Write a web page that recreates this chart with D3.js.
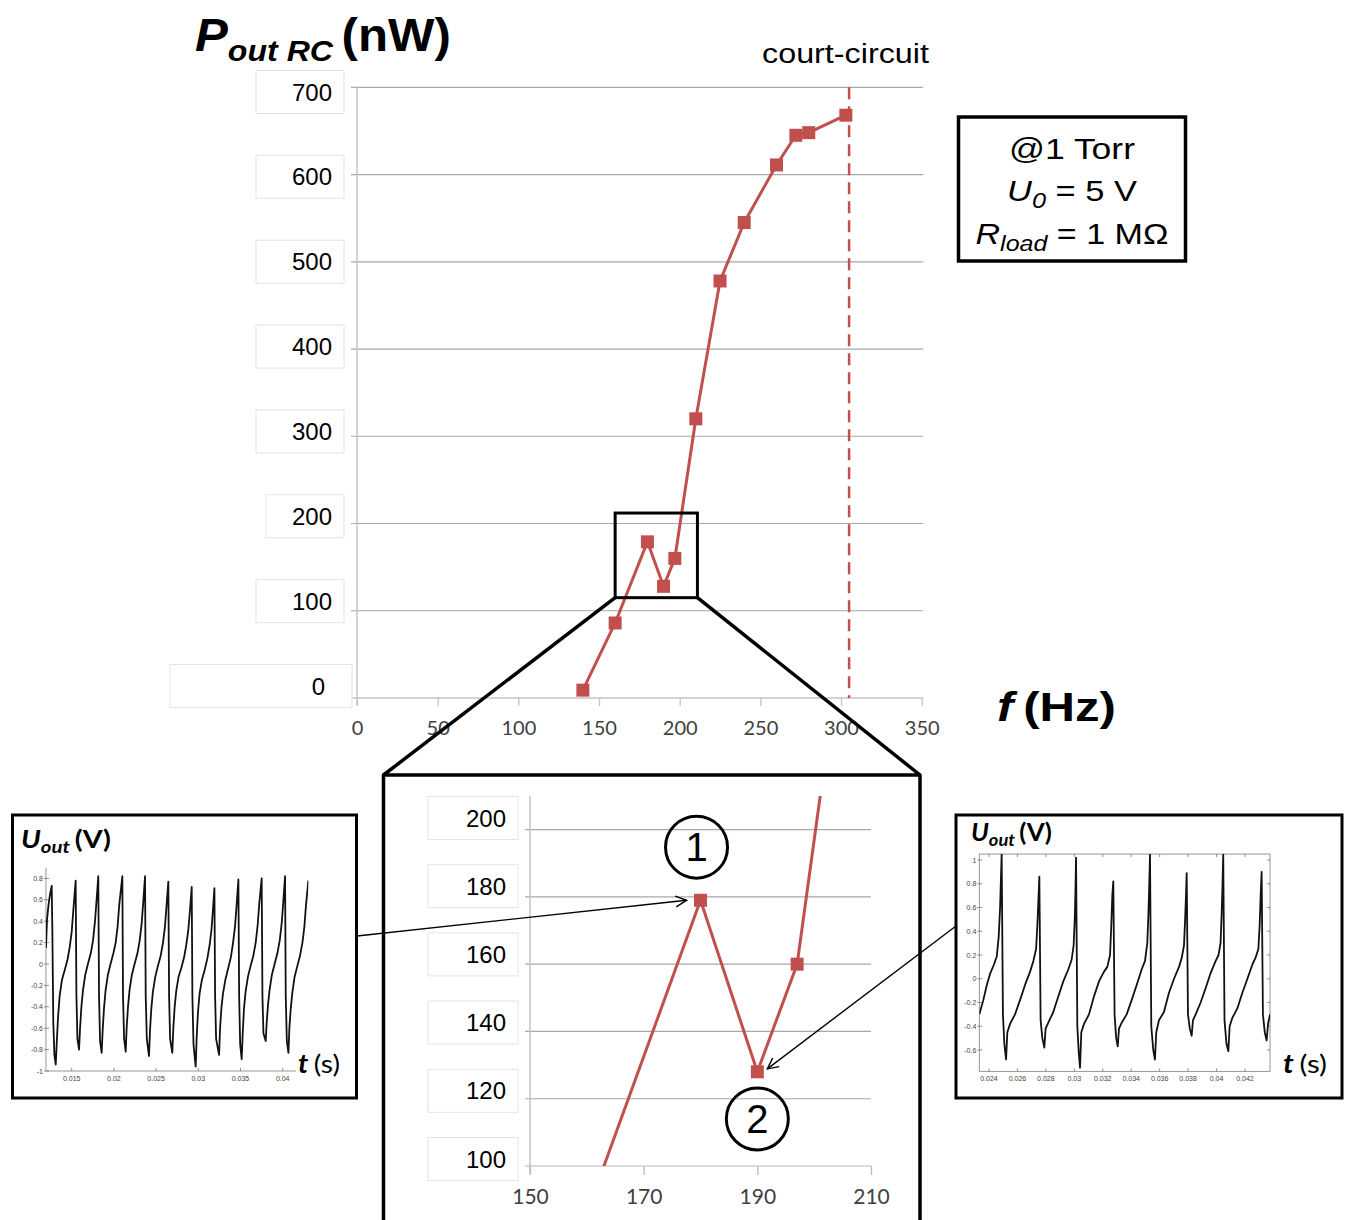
<!DOCTYPE html>
<html><head><meta charset="utf-8">
<script src="https://cdn.jsdelivr.net/npm/d3@7"></script>
<style>body{margin:0;background:#fff}svg{display:block}</style>
</head><body>
<svg id="c" width="1348" height="1220"></svg>
<script>
// ---------------- DATA ----------------
const freqHz   = [140, 160, 180, 190, 197, 210, 225, 240, 260, 272, 280, 303];
const powerNW  = [9,   86,  179, 128, 160, 320, 478, 545, 611, 645, 648, 668];
const shortCircuitHz = 305;
const mainXTicks = [0, 50, 100, 150, 200, 250, 300, 350];
const mainYTicks = [0, 100, 200, 300, 400, 500, 600, 700];
const zoomXTicks = [150, 170, 190, 210];
const zoomYTicks = [100, 120, 140, 160, 180, 200];
const zoomBoxHz = [160, 211];
const zoomBoxNW = [115, 212];
const leftWaveXTicks = [0.015, 0.02, 0.025, 0.03, 0.035, 0.04];
const leftWaveYTicks = [-1, -0.8, -0.6, -0.4, -0.2, 0, 0.2, 0.4, 0.6, 0.8];
const rightWaveXTicks = [0.024, 0.026, 0.028, 0.03, 0.032, 0.034, 0.036, 0.038, 0.04, 0.042];
const rightWaveYTicks = [-0.6, -0.4, -0.2, 0, 0.2, 0.4, 0.6, 0.8, 1];

// waveform 1 (point 1, 180 Hz): [t (s), U (V)]
const wave1 = [
[0.01195,0.15],[0.01208,0.42],[0.01225,0.55],[0.01243,0.65],[0.01263,0.73],
[0.01271,0.3],[0.01282,-0.55],[0.01295,-0.85],[0.01311,-0.94],
[0.01322,-0.75],[0.01338,-0.5],[0.01357,-0.3],[0.01384,-0.15],[0.01416,-0.06],[0.0145,0.04],[0.01477,0.16],[0.015,0.3],[0.01519,0.5],[0.01547,0.78],
[0.01556,-0.3],[0.01568,-0.7],[0.01587,-0.80],
[0.01599,-0.6],[0.01615,-0.4],[0.01633,-0.25],[0.01661,-0.1],[0.01692,0.0],[0.01726,0.1],[0.01753,0.22],[0.01776,0.4],[0.01795,0.6],[0.01815,0.82],
[0.01824,-0.3],[0.01836,-0.72],[0.01855,-0.83],
[0.01867,-0.62],[0.01882,-0.42],[0.01901,-0.25],[0.01929,-0.1],[0.0196,0.0],[0.01994,0.1],[0.02021,0.2],[0.02044,0.35],[0.02063,0.55],[0.021,0.82],
[0.02108,-0.3],[0.02121,-0.7],[0.0214,-0.82],
[0.02151,-0.6],[0.02167,-0.4],[0.02186,-0.24],[0.02213,-0.1],[0.02245,0.0],[0.02279,0.1],[0.02306,0.22],[0.02329,0.38],[0.02348,0.58],[0.02369,0.82],
[0.02377,-0.3],[0.0239,-0.7],[0.02416,-0.86],
[0.02428,-0.62],[0.02443,-0.42],[0.02462,-0.26],[0.0249,-0.12],[0.02521,-0.02],[0.02555,0.08],[0.02582,0.2],[0.02605,0.35],[0.02624,0.55],[0.02645,0.77],
[0.02654,-0.3],[0.02666,-0.7],[0.02692,-0.83],
[0.02704,-0.6],[0.0272,-0.4],[0.02739,-0.25],[0.02766,-0.12],[0.02798,-0.04],[0.02831,0.06],[0.02858,0.18],[0.02882,0.32],[0.02901,0.5],[0.02922,0.72],
[0.0293,-0.3],[0.02943,-0.75],[0.02969,-0.96],
[0.0298,-0.7],[0.02996,-0.45],[0.03015,-0.28],[0.03042,-0.15],[0.03074,-0.06],[0.03107,0.05],[0.03135,0.18],[0.03156,0.32],[0.03173,0.5],[0.03191,0.71],
[0.03199,-0.3],[0.03211,-0.7],[0.03246,-0.85],
[0.03258,-0.6],[0.03273,-0.42],[0.03292,-0.28],[0.0332,-0.15],[0.03351,-0.05],[0.03385,0.06],[0.03412,0.2],[0.03435,0.35],[0.03454,0.55],[0.03475,0.79],
[0.03484,-0.3],[0.03496,-0.75],[0.03514,-0.89],
[0.03526,-0.65],[0.03541,-0.42],[0.0356,-0.26],[0.03588,-0.12],[0.03619,-0.02],[0.03653,0.08],[0.0368,0.2],[0.03703,0.36],[0.03722,0.56],[0.03751,0.80],
[0.0376,-0.3],[0.03772,-0.65],[0.03799,-0.72],
[0.0381,-0.55],[0.03826,-0.38],[0.03845,-0.24],[0.03872,-0.1],[0.03904,0.0],[0.03937,0.1],[0.03965,0.22],[0.03988,0.38],[0.04007,0.58],[0.04028,0.82],
[0.04036,-0.3],[0.04049,-0.72],[0.04068,-0.83],
[0.04079,-0.6],[0.04095,-0.42],[0.04114,-0.27],[0.04141,-0.12],[0.04173,-0.02],[0.04206,0.08],[0.04234,0.2],[0.04257,0.35],[0.04276,0.55],[0.04304,0.78]
];

// waveform 2 (point 2, 190 Hz): [t (s), U (V)]
const wave2 = [
[0.02332,-0.3],[0.0236,-0.18],[0.02385,-0.05],[0.0241,0.05],[0.02435,0.12],[0.02455,0.19],[0.02468,0.35],[0.02478,0.6],[0.02484,0.85],[0.02489,1.05],
[0.02498,-0.3],[0.02508,-0.55],[0.0252,-0.68],
[0.02529,-0.45],[0.02548,-0.38],[0.02583,-0.3],[0.02618,-0.18],[0.02654,-0.05],[0.02689,0.06],[0.02712,0.15],[0.02731,0.25],[0.0274,0.45],[0.02747,0.65],[0.02754,0.86],
[0.02763,-0.35],[0.02775,-0.5],[0.02789,-0.58],
[0.02798,-0.42],[0.02817,-0.37],[0.02852,-0.28],[0.02887,-0.15],[0.02923,-0.02],[0.02958,0.08],[0.02981,0.16],[0.02995,0.28],[0.03003,0.5],[0.03008,0.75],[0.03012,1.02],
[0.03021,-0.4],[0.03031,-0.62],[0.0304,-0.75],
[0.03049,-0.45],[0.03068,-0.38],[0.03103,-0.3],[0.03138,-0.15],[0.03174,-0.02],[0.03209,0.06],[0.03232,0.1],[0.03251,0.2],[0.0326,0.45],[0.03267,0.7],[0.03274,0.82],
[0.03283,-0.3],[0.03294,-0.5],[0.03305,-0.57],
[0.03314,-0.42],[0.03333,-0.37],[0.03368,-0.3],[0.03403,-0.18],[0.03439,-0.05],[0.03474,0.08],[0.03497,0.15],[0.03513,0.3],[0.03521,0.55],[0.03527,0.8],[0.03532,1.05],
[0.03541,-0.4],[0.03555,-0.6],[0.03567,-0.68],
[0.03576,-0.45],[0.03595,-0.35],[0.0363,-0.28],[0.03665,-0.12],[0.03701,0.0],[0.03736,0.1],[0.03756,0.18],[0.03771,0.28],[0.03779,0.5],[0.03785,0.7],[0.0379,0.89],
[0.03799,-0.3],[0.03812,-0.42],[0.03825,-0.48],
[0.03834,-0.35],[0.03853,-0.3],[0.03888,-0.2],[0.03923,-0.08],[0.03959,0.05],[0.03994,0.15],[0.04014,0.2],[0.04028,0.3],[0.04036,0.55],[0.04042,0.8],[0.04047,1.05],
[0.04056,-0.35],[0.0407,-0.55],[0.04083,-0.61],
[0.04092,-0.4],[0.04111,-0.33],[0.04146,-0.25],[0.04181,-0.12],[0.04217,0.0],[0.04252,0.12],[0.04275,0.18],[0.04294,0.25],[0.04303,0.45],[0.0431,0.7],[0.04317,0.9],
[0.04326,-0.3],[0.04339,-0.45],[0.04352,-0.52],
[0.04362,-0.38],[0.04376,-0.3]
];

// ---------------- DRAWING ----------------
const RED = "#c0504d";
const ARIAL = "'Liberation Sans', Arial, sans-serif";
const CAL = "Lato, 'Open Sans', sans-serif";
const svg = d3.select("#c");
const defs = svg.append("defs");

function fitText(g, targetW, x0, baseline, anchor) {
  const bb = g.node().getBBox();
  const s = targetW / bb.width;
  const tx = anchor === "middle" ? x0 - targetW / 2 : x0;
  g.attr("transform", `translate(${tx - bb.x * s},${baseline}) scale(${s},1)`);
}

// ----- main chart -----
const x = d3.scaleLinear().domain([0, 350]).range([357, 921.7]);
const y = d3.scaleLinear().domain([0, 700]).range([698, 87.3]);
const yLab = d3.scaleLinear().domain([0, 700]).range([686, 92]);

const main = svg.append("g");
main.selectAll("line.grid").data(mainYTicks.filter(v => v > 0)).join("line")
  .attr("class", "grid")
  .attr("x1", x(0) - 6).attr("x2", x(350) + 1.5)
  .attr("y1", d => y(d)).attr("y2", d => y(d))
  .attr("stroke", "#a8a8a8").attr("stroke-width", 1.2);

main.append("line").attr("x1", x(0)).attr("x2", x(0)).attr("y1", y(700)).attr("y2", y(0) + 7)
  .attr("stroke", "#c4c4c4").attr("stroke-width", 1.5);

const xAxis = d3.axisBottom(x).tickValues(mainXTicks).tickSize(8).tickSizeOuter(0).tickFormat(d3.format("d"));
const xg = main.append("g").attr("transform", `translate(0,${y(0)})`).call(xAxis);
xg.select(".domain").attr("d", `M${x(0) - 6},0H${x(350) + 1.5}`).attr("stroke", "#c4c4c4").attr("stroke-width", 1.5);
xg.selectAll(".tick line").attr("stroke", "#c4c4c4").attr("stroke-width", 1.3);
xg.selectAll(".tick text").attr("y", 37).attr("dy", 0)
  .attr("font-family", CAL).attr("font-size", 20).attr("fill", "#404040");

const yl = main.append("g");
mainYTicks.forEach(v => {
  const cy = yLab(v);
  const left = v === 0 ? 170 : (v === 200 ? 266 : 256);
  const right = v === 0 ? 352 : 344;
  yl.append("rect").attr("x", left).attr("y", cy - 21.5).attr("width", right - left).attr("height", 43)
    .attr("fill", "#fff").attr("stroke", "#e4e4e4").attr("stroke-width", 1);
  yl.append("text").attr("x", v === 0 ? 325 : 332).attr("y", cy + 8.5).attr("text-anchor", "end")
    .attr("font-family", ARIAL).attr("font-size", 24).attr("fill", "#000").text(v);
});

main.append("line").attr("x1", x(shortCircuitHz)).attr("x2", x(shortCircuitHz))
  .attr("y1", y(700)).attr("y2", y(0))
  .attr("stroke", RED).attr("stroke-width", 2.5).attr("stroke-dasharray", "12,7");

const pts = freqHz.map((f, i) => [f, powerNW[i]]);
main.append("path").datum(pts)
  .attr("d", d3.line().x(d => x(d[0])).y(d => y(d[1])))
  .attr("fill", "none").attr("stroke", RED).attr("stroke-width", 3).attr("stroke-linejoin", "round");
main.selectAll("rect.mk").data(pts).join("rect").attr("class", "mk")
  .attr("x", d => x(d[0]) - 6.5).attr("y", d => y(d[1]) - 6.5).attr("width", 13).attr("height", 13)
  .attr("fill", RED);

main.append("text").attr("font-family", ARIAL).attr("font-size", 27).attr("x", 762).attr("y", 63)
  .attr("textLength", 167).attr("lengthAdjust", "spacingAndGlyphs").text("court-circuit");

// title
{
  const g = svg.append("g");
  const t = g.append("text").attr("font-family", ARIAL).attr("font-weight", "bold").attr("fill", "#000");
  t.append("tspan").attr("font-style", "italic").attr("font-size", 46).text("P");
  t.append("tspan").attr("font-style", "italic").attr("font-size", 30).attr("dy", 10).text("out RC");
  t.append("tspan").attr("font-size", 46).attr("dy", -10).attr("dx", 8).text("(nW)");
  fitText(g, 256, 195, 51);
}
// f (Hz)
{
  const g = svg.append("g");
  const t = g.append("text").attr("font-family", ARIAL).attr("font-weight", "bold").attr("font-size", 40);
  t.append("tspan").attr("font-style", "italic").text("f");
  t.append("tspan").attr("dx", 8).text("(Hz)");
  fitText(g, 119, 997, 721);
}

// legend box
svg.append("rect").attr("x", 958.5).attr("y", 117).attr("width", 227).attr("height", 144)
  .attr("fill", "#fff").attr("stroke", "#000").attr("stroke-width", 3.5);
{
  const g1 = svg.append("g");
  g1.append("text").attr("font-family", ARIAL).attr("font-size", 30).text("@1 Torr");
  fitText(g1, 126, 1072, 159, "middle");
  const g2 = svg.append("g");
  const t2 = g2.append("text").attr("font-family", ARIAL).attr("font-size", 30);
  t2.append("tspan").attr("font-style", "italic").text("U");
  t2.append("tspan").attr("font-style", "italic").attr("font-size", 22).attr("dy", 7).text("0");
  t2.append("tspan").attr("dy", -7).text(" = 5 V");
  fitText(g2, 130, 1072, 201, "middle");
  const g3 = svg.append("g");
  const t3 = g3.append("text").attr("font-family", ARIAL).attr("font-size", 30);
  t3.append("tspan").attr("font-style", "italic").text("R");
  t3.append("tspan").attr("font-style", "italic").attr("font-size", 22).attr("dy", 7).text("load");
  t3.append("tspan").attr("dy", -7).text(" = 1 MΩ");
  fitText(g3, 193, 1072, 244, "middle");
}

// ----- zoom box + connector -----
const zx0 = x(zoomBoxHz[0]), zx1 = x(zoomBoxHz[1]), zy0 = y(zoomBoxNW[1]), zy1 = y(zoomBoxNW[0]);
svg.append("rect").attr("x", zx0).attr("y", zy0).attr("width", zx1 - zx0).attr("height", zy1 - zy0)
  .attr("fill", "none").attr("stroke", "#000").attr("stroke-width", 3);
const inset = { x0: 383.5, x1: 920, y0: 775 };
svg.append("line").attr("x1", zx0).attr("y1", zy1).attr("x2", inset.x0).attr("y2", inset.y0)
  .attr("stroke", "#000").attr("stroke-width", 3.5);
svg.append("line").attr("x1", zx1).attr("y1", zy1).attr("x2", inset.x1).attr("y2", inset.y0)
  .attr("stroke", "#000").attr("stroke-width", 3.5);
svg.append("path").attr("d", `M${inset.x0},1240V${inset.y0}H${inset.x1}V1240`)
  .attr("fill", "#fff").attr("stroke", "#000").attr("stroke-width", 3.5).attr("stroke-linejoin", "round");

// ----- inset chart -----
const xi = d3.scaleLinear().domain([150, 210]).range([530, 871]);
const yi = d3.scaleLinear().domain([100, 210]).range([1166, 796]);
const yiLab = d3.scaleLinear().domain([100, 200]).range([1159, 818]);
const ins = svg.append("g");
ins.selectAll("line.grid").data(zoomYTicks).join("line")
  .attr("x1", xi(150) - 5).attr("x2", xi(210))
  .attr("y1", d => yi(d)).attr("y2", d => yi(d))
  .attr("stroke", d => d === 100 ? "#b8b8b8" : "#a8a8a8").attr("stroke-width", 1.2);
ins.append("line").attr("x1", xi(150)).attr("x2", xi(150)).attr("y1", yi(210)).attr("y2", yi(100) + 8)
  .attr("stroke", "#c4c4c4").attr("stroke-width", 1.5);
const xiAxis = d3.axisBottom(xi).tickValues(zoomXTicks).tickSize(9).tickSizeOuter(0);
const xig = ins.append("g").attr("transform", `translate(0,${yi(100)})`).call(xiAxis);
xig.select(".domain").remove();
xig.selectAll(".tick line").attr("stroke", "#b8b8b8").attr("stroke-width", 1.3);
xig.selectAll(".tick text").attr("y", 38).attr("dy", 0)
  .attr("font-family", CAL).attr("font-size", 21).attr("fill", "#404040");
zoomYTicks.forEach(v => {
  const cy = yiLab(v);
  ins.append("rect").attr("x", 428).attr("y", cy - 21.5).attr("width", 90).attr("height", 43)
    .attr("fill", "#fff").attr("stroke", "#e4e4e4");
  ins.append("text").attr("x", 506).attr("y", cy + 8.5).attr("text-anchor", "end")
    .attr("font-family", ARIAL).attr("font-size", 24).text(v);
});
defs.append("clipPath").attr("id", "clipIns").append("rect")
  .attr("x", xi(150)).attr("y", yi(210)).attr("width", xi(210) - xi(150)).attr("height", yi(100) - yi(210));
const ic = ins.append("g").attr("clip-path", "url(#clipIns)");
ic.append("path").datum(pts)
  .attr("d", d3.line().x(d => xi(d[0])).y(d => yi(d[1])))
  .attr("fill", "none").attr("stroke", RED).attr("stroke-width", 3).attr("stroke-linejoin", "round");
ic.selectAll("rect.mk").data(pts).join("rect").attr("class", "mk")
  .attr("x", d => xi(d[0]) - 6.5).attr("y", d => yi(d[1]) - 6.5).attr("width", 13).attr("height", 13)
  .attr("fill", RED);

[[179.3, 194.8, "1"], [190, 114, "2"]].forEach(([f, p, s]) => {
  svg.append("circle").attr("cx", xi(f)).attr("cy", yi(p)).attr("r", 31)
    .attr("fill", "none").attr("stroke", "#000").attr("stroke-width", 3);
  svg.append("text").attr("x", xi(f)).attr("y", yi(p) + 14).attr("text-anchor", "middle")
    .attr("font-family", ARIAL).attr("font-size", 40).text(s);
});

// ----- waveform insets -----
function waveInset(o) {
  svg.append("rect").attr("x", o.box[0]).attr("y", o.box[1]).attr("width", o.box[2]).attr("height", o.box[3])
    .attr("fill", "#fff").attr("stroke", "#000").attr("stroke-width", 3);
  const g = svg.append("g");
  const xs = o.xs, ys = o.ys;
  const ya = ys(o.yDom[0]), yb = ys(o.yDom[1]);
  const L = xs(o.xDom[0]), R = xs(o.xDom[1]);
  if (o.frame) {
    g.append("rect").attr("x", L).attr("y", yb).attr("width", R - L).attr("height", ya - yb)
      .attr("fill", "none").attr("stroke", "#8a8a8a").attr("stroke-width", 0.9);
  } else {
    g.append("path").attr("d", `M${L},${yb}V${ya}H${R}`).attr("fill", "none")
      .attr("stroke", "#8a8a8a").attr("stroke-width", 0.9);
  }
  o.yTicks.forEach(v => {
    g.append("line").attr("x1", L - 2).attr("x2", L + 3).attr("y1", ys(v)).attr("y2", ys(v)).attr("stroke", "#777").attr("stroke-width", 0.8);
    if (o.frame) g.append("line").attr("x1", R - 3).attr("x2", R).attr("y1", ys(v)).attr("y2", ys(v)).attr("stroke", "#777").attr("stroke-width", 0.8);
    g.append("text").attr("x", L - 3).attr("y", ys(v) + 2.5).attr("text-anchor", "end")
      .attr("font-family", ARIAL).attr("font-size", 7).attr("fill", "#444").text(v);
  });
  o.xTicks.forEach(v => {
    g.append("line").attr("x1", xs(v)).attr("x2", xs(v)).attr("y1", ya).attr("y2", ya - 3).attr("stroke", "#777").attr("stroke-width", 0.8);
    if (o.frame) g.append("line").attr("x1", xs(v)).attr("x2", xs(v)).attr("y1", yb).attr("y2", yb + 3).attr("stroke", "#777").attr("stroke-width", 0.8);
    g.append("text").attr("x", xs(v)).attr("y", ya + 10).attr("text-anchor", "middle")
      .attr("font-family", ARIAL).attr("font-size", 7).attr("fill", "#444").text(v);
  });
  defs.append("clipPath").attr("id", o.id).append("rect")
    .attr("x", L).attr("y", yb).attr("width", R - L).attr("height", ya - yb);
  g.append("path").datum(o.data).attr("clip-path", `url(#${o.id})`)
    .attr("d", d3.line().x(d => xs(d[0])).y(d => ys(d[1])))
    .attr("fill", "none").attr("stroke", "#111").attr("stroke-width", 1.8).attr("stroke-linejoin", "round");
  const tg = svg.append("g");
  const t = tg.append("text").attr("font-family", CAL).attr("font-weight", "bold").attr("font-size", 24);
  t.append("tspan").attr("font-style", "italic").text("U");
  t.append("tspan").attr("font-style", "italic").attr("font-size", 17).attr("dy", 5).text("out");
  t.append("tspan").attr("dy", -5).attr("dx", 4).text("(V)");
  fitText(tg, o.titleW, o.titleX, o.titleY);
  if (o.tsBox) svg.append("rect").attr("x", o.tsBox[0]).attr("y", o.tsBox[1]).attr("width", o.tsBox[2]).attr("height", o.tsBox[3]).attr("fill", "#fff");
  const sg = svg.append("g");
  const s = sg.append("text").attr("font-family", CAL).attr("font-size", 26);
  s.append("tspan").attr("font-style", "italic").attr("font-weight", "bold").text("t");
  s.append("tspan").attr("dx", 5).text("(s)");
  fitText(sg, o.tsW, o.tsX, 1073);
}

waveInset({
  id: "clipW1", box: [12.5, 815, 344, 283],
  xs: d3.scaleLinear().domain([0.015, 0.04]).range([71.7, 282.7]),
  ys: d3.scaleLinear().domain([-1, 0.8]).range([1071, 878.4]),
  xDom: [0.01195, 0.04304], yDom: [-1, 0.9],
  xTicks: leftWaveXTicks, yTicks: leftWaveYTicks, data: wave1, frame: false,
  titleX: 21, titleY: 848, titleW: 90,
  tsBox: [296, 1040, 48, 42], tsX: 298, tsW: 42
});
waveInset({
  id: "clipW2", box: [956, 815, 386, 283],
  xs: d3.scaleLinear().domain([0.024, 0.042]).range([989, 1245]),
  ys: d3.scaleLinear().domain([-0.6, 1]).range([1050, 860]),
  xDom: [0.02332, 0.04376], yDom: [-0.78, 1.05],
  xTicks: rightWaveXTicks, yTicks: rightWaveYTicks, data: wave2, frame: true,
  titleX: 971, titleY: 841, titleW: 81,
  tsBox: null, tsX: 1283, tsW: 44
});

// arrows
defs.append("marker").attr("id", "arr").attr("viewBox", "0 0 12 12").attr("refX", 11).attr("refY", 6)
  .attr("markerWidth", 13).attr("markerHeight", 13).attr("markerUnits", "userSpaceOnUse").attr("orient", "auto")
  .append("path").attr("d", "M1,1L11,6L1,11").attr("fill", "none").attr("stroke", "#000").attr("stroke-width", 1.3);
svg.append("line").attr("x1", 357).attr("y1", 936).attr("x2", xi(180) - 14).attr("y2", yi(179))
  .attr("stroke", "#000").attr("stroke-width", 1.4).attr("marker-end", "url(#arr)");
svg.append("line").attr("x1", 956).attr("y1", 926).attr("x2", xi(190) + 10).attr("y2", yi(128) - 3)
  .attr("stroke", "#000").attr("stroke-width", 1.4).attr("marker-end", "url(#arr)");
</script>
</body></html>
